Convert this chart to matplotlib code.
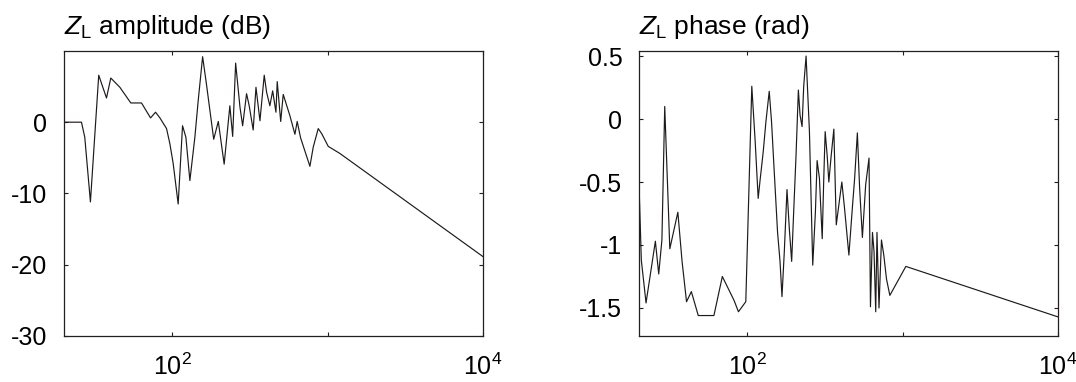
import matplotlib
matplotlib.use("Agg")
import matplotlib.pyplot as plt

# ---------------- data ----------------
amp_freq = [20, 26.1, 27.4, 29.8, 33.7, 37.8, 40.3, 46.1, 54.2, 63.5, 72.6, 78.2,
            83.4, 92, 96.6, 101.5, 109.3, 116.6, 122.5, 130, 140, 147, 157, 166,
            185, 198, 216, 235, 245, 256, 273, 284, 301, 313, 332, 346, 367, 391,
            405, 425, 443, 465, 474, 499, 518, 572, 616, 637, 670, 769, 808, 870,
            915, 1009, 1200, 10000]
amp_db = [0.0, 0.0, -2.1, -11.2, 6.6, 3.4, 6.2, 4.9, 2.7, 2.7, 0.6, 1.4,
          0.6, -0.9, -3.0, -5.8, -11.5, -0.5, -2.1, -8.2, -2.1, 3.0, 9.2, 5.4,
          -2.4, 0.1, -5.9, 2.3, -2.0, 8.3, 2.1, -0.5, 4.0, 2.3, -1.1, 4.9, 0.2, 6.6,
          4.2, 2.3, 4.4, 1.4, 5.7, 0.1, 3.9, 0.9, -1.7, 0.1, -2.2, -6.2, -3.5, -0.9,
          -1.6, -3.4, -4.4, -18.9]

ph_freq = [20, 20.7, 22.2, 25.5, 26.8, 28.1, 29.3, 31.6, 35.6, 37.9, 40.5, 43.5,
           48.2, 60.8, 68.9, 82.0, 87.5, 97.6, 106.7, 112.2, 117.3, 120.3, 126.4,
           131.6, 138.2, 143, 148.9, 156.4, 162.2, 167, 172.9, 179.9, 186.2, 192.8,
           198.6, 205.7, 213, 218.4, 225, 230.5, 238.8, 251, 263.6, 274.2, 281.3,
           291.1, 303.4, 310.5, 317, 326.6, 334.7, 346.7, 360.6, 373.8, 406, 422.7,
           450.8, 474.3, 491, 511.2, 528.8, 550.8, 578.4, 607.8, 620.9, 639.7,
           654.6, 671.4, 684, 704.7, 731.1, 756.8, 787.7, 827.9, 1050, 10000]
ph_rad = [-0.51, -1.12, -1.46, -0.97, -1.23, -0.96, 0.10, -1.03, -0.74, -1.13,
          -1.45, -1.37, -1.56, -1.56, -1.25, -1.44, -1.53, -1.45, 0.26, -0.18,
          -0.63, -0.50, -0.26, -0.02, 0.22, -0.02, -0.42, -0.90, -1.13, -1.41,
          -1.05, -0.56, -0.87, -1.13, -0.74, -0.29, 0.23, 0.03, -0.06, 0.26, 0.50,
          -0.10, -1.16, -0.74, -0.33, -0.47, -0.95, -0.47, -0.10, -0.29, -0.50,
          -0.29, -0.08, -0.84, -0.50, -0.71, -1.08, -0.71, -0.47, -0.11, -0.55,
          -0.94, -0.52, -0.31, -1.49, -0.90, -1.05, -1.53, -0.90, -1.50, -0.96,
          -1.08, -1.27, -1.40, -1.17, -1.57]

x_ticks = [100, 1000, 10000]
x_ticklabels = [r'$10^{2}$', '', r'$10^{4}$']
amp_yticks = [-30, -20, -10, 0]
amp_yticklabels = ['-30', '-20', '-10', '0']
ph_yticks = [-1.5, -1, -0.5, 0, 0.5]
ph_yticklabels = ['-1.5', '-1', '-0.5', '0', '0.5']
amp_title = r'$Z_{\mathrm{L}}$ amplitude (dB)'
ph_title = r'$Z_{\mathrm{L}}$ phase (rad)'

# ---------------- style ----------------
plt.rcParams['font.family'] = ['Liberation Sans', 'DejaVu Sans']
plt.rcParams['mathtext.fontset'] = 'custom'
plt.rcParams['mathtext.rm'] = 'Liberation Sans'
plt.rcParams['mathtext.it'] = 'Liberation Sans:italic'
plt.rcParams['mathtext.bf'] = 'Liberation Sans:bold'
plt.rcParams['axes.unicode_minus'] = False

W, H = 1076, 382
fig = plt.figure(figsize=(W / 100, H / 100), dpi=100)

spine_col = '#231f20'
line_col = '#1e1a1a'
fs = 18

def make_ax(rect, fx, fy, ylim, yticks, yticklabels, title):
    ax = fig.add_axes(rect)
    ax.plot(fx, fy, color=line_col, lw=0.85)
    ax.set_xscale('log')
    ax.set_xlim(20, 10000)
    ax.set_ylim(*ylim)
    ax.set_xticks(x_ticks)
    ax.set_xticklabels(x_ticklabels)
    ax.xaxis.set_minor_locator(matplotlib.ticker.NullLocator())
    ax.set_yticks(yticks)
    ax.set_yticklabels(yticklabels)
    ax.tick_params(direction='in', length=3, width=0.8, color=spine_col,
                   top=True, right=True, labelsize=fs)
    ax.tick_params(axis='x', pad=13)
    ax.tick_params(axis='y', pad=12)
    for s in ax.spines.values():
        s.set_color(spine_col)
        s.set_linewidth(0.9)
    ax.set_title(title, loc='left', fontsize=19, pad=12)
    return ax

bot = 1 - 335.7 / H
top = 1 - 51.0 / H
hgt = top - bot
make_ax([63.5 / W, bot, (483.1 - 63.5) / W, hgt], amp_freq, amp_db,
        (-30, 10), amp_yticks, amp_yticklabels, amp_title)
make_ax([639.0 / W, bot, (1057.7 - 639.0) / W, hgt], ph_freq, ph_rad,
        (-1.72, 0.54), ph_yticks, ph_yticklabels, ph_title)

fig.savefig('out.png', dpi=100)
